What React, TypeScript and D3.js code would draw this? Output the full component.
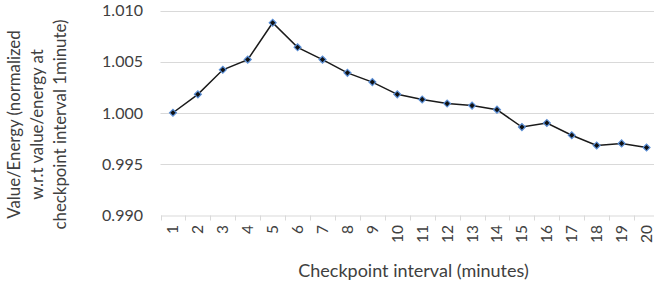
import { useEffect, useRef } from "react";
import * as d3 from "d3";

const intervals = ["1","2","3","4","5","6","7","8","9","10","11","12","13","14","15","16","17","18","19","20"];
const values = [1.0, 1.0018, 1.0042, 1.0052, 1.0088, 1.0064, 1.0052, 1.0039, 1.003, 1.0018, 1.0013, 1.0009, 1.0007, 1.0003, 0.9986, 0.999, 0.9978, 0.9968, 0.997, 0.9966];
const yTicks = [0.99, 0.995, 1.0, 1.005, 1.01];
const yTitle = ["Value/Energy (normalized", "w.r.t value/energy at", "checkpoint interval 1minute)"];
const xTitle = "Checkpoint interval (minutes)";

const W = 654, H = 284;
const FONT = "Lato, 'Noto Sans', sans-serif";
const INK = "#404040";

export default function App() {
  const ref = useRef<SVGSVGElement>(null);

  useEffect(() => {
    if (!ref.current) return;
    const svg = d3.select(ref.current);
    svg.selectAll("*").remove();

    const left = 160.5, right = 659, top = 10.5, bottom = 215;
    const x = d3.scaleBand().domain(intervals).range([left, right]);
    const y = d3.scaleLinear().domain([0.99, 1.01]).range([bottom, top]);
    const cx = (d: string) => x(d)! + x.bandwidth() / 2;

    // gridlines
    svg.append("g").selectAll("line").data(yTicks.filter((t) => t !== 0.99)).join("line")
      .attr("x1", left).attr("x2", right)
      .attr("y1", (d) => Math.round(y(d)) + 0.5).attr("y2", (d) => Math.round(y(d)) + 0.5)
      .attr("stroke", "#d9d9d9").attr("stroke-width", 1);

    // x axis
    const xa = svg.append("g").attr("transform", `translate(0,${Math.round(bottom) + 0.5})`)
      .call(d3.axisBottom(x).tickSize(0).tickPadding(0));
    xa.select(".domain").attr("stroke", "#d9d9d9");
    xa.selectAll(".tick").remove();
    const edges = intervals.map((d) => x(d)!).concat([right]);
    xa.selectAll("line.tk").data(edges).join("line").attr("class", "tk")
      .attr("x1", (d) => Math.round(d) + 0.5).attr("x2", (d) => Math.round(d) + 0.5)
      .attr("y1", 0).attr("y2", 5).attr("stroke", "#d9d9d9");
    svg.append("g").selectAll("text").data(intervals).join("text")
      .attr("transform", (d) => `translate(${cx(d) + 5.5},${bottom + 10}) rotate(-90)`)
      .attr("text-anchor", "end")
      .attr("font-family", FONT).attr("font-size", 15.5).attr("fill", INK)
      .text((d) => d);

    // y tick labels
    svg.append("g").selectAll("text").data(yTicks).join("text")
      .attr("x", 143).attr("y", (d) => y(d) + 5.8)
      .attr("text-anchor", "end")
      .attr("font-family", FONT).attr("font-size", 16).attr("fill", INK)
      .text((d) => d3.format(".3f")(d));

    // line
    const line = d3.line<number>().x((_, i) => cx(intervals[i])).y((d) => y(d));
    svg.append("path").attr("d", line(values)).attr("fill", "none")
      .attr("stroke", "#1a1a1a").attr("stroke-width", 1.5);

    // markers
    const sym = d3.symbol().type(d3.symbolSquare).size(24);
    svg.append("g").selectAll("path").data(values).join("path")
      .attr("transform", (d, i) => `translate(${cx(intervals[i])},${y(d)}) rotate(45)`)
      .attr("d", sym()!)
      .attr("fill", "#111").attr("stroke", "#5b8fd6").attr("stroke-width", 1.2);

    // axis titles
    svg.append("text").attr("x", 413.5).attr("y", 276.5)
      .attr("text-anchor", "middle")
      .attr("font-family", FONT).attr("font-size", 18).attr("fill", INK)
      .text(xTitle);

    const ty = 124.5;
    svg.append("g").selectAll("text").data(yTitle).join("text")
      .attr("transform", (_, i) => `translate(${19.5 + i * 23},${ty}) rotate(-90)`)
      .attr("text-anchor", "middle")
      .attr("font-family", FONT).attr("font-size", 16.8).attr("fill", INK)
      .text((d) => d);
  }, []);

  return (
    <svg ref={ref} width={W} height={H}
      style={{ position: "absolute", left: 0, top: 0, background: "#fff" }} />
  );
}
